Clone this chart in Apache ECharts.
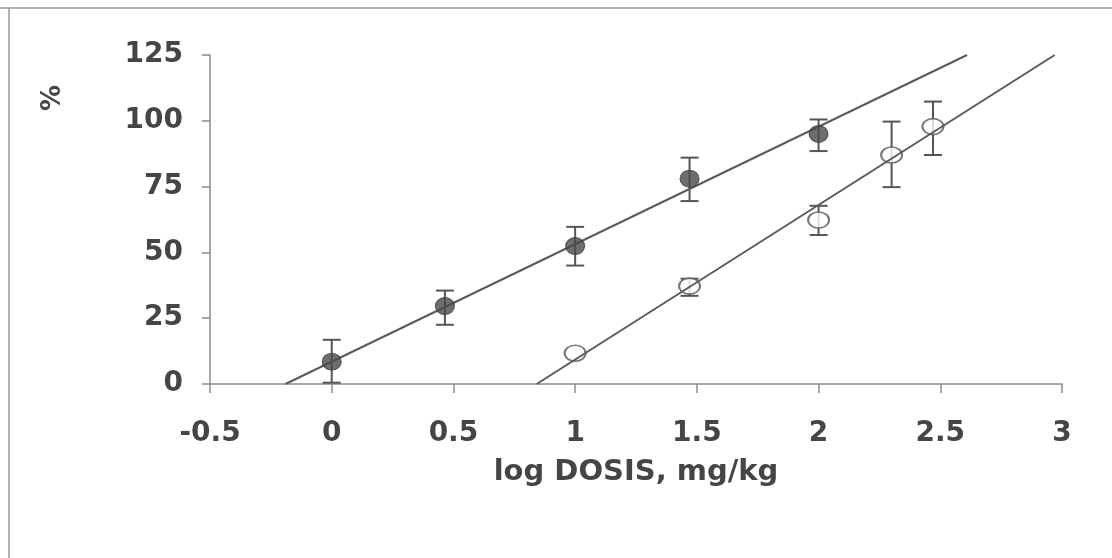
<!DOCTYPE html>
<html>
<head>
<meta charset="utf-8">
<script src="https://cdn.jsdelivr.net/npm/echarts@6/dist/echarts.min.js"></script>
<style>
html,body{margin:0;padding:0;background:#fff;}
#chart{width:1112px;height:558px;}
</style>
</head>
<body>
<div id="chart"></div>
<script>
// ---- data ----
var xTicks = [-0.5, 0, 0.5, 1, 1.5, 2, 2.5, 3];
var yTicks = [0, 25, 50, 75, 100, 125];
var dosesFilled = [0, 0.465, 1, 1.47, 2];
var respFilled = [8.5, 29.6, 52.4, 78, 95];
var errLowFilled = [0.5, 22.5, 45, 69.5, 88.5];
var errHighFilled = [16.8, 35.5, 59.7, 86, 100.5];
var dosesOpen = [1, 1.47, 2, 2.3, 2.47];
var respOpen = [11.7, 37.2, 62.3, 87, 97.8];
var errLowOpen = [null, 33.5, 56.6, 74.8, 87];
var errHighOpen = [null, 40, 67.7, 99.7, 107.3];
var fitFilledX = [-0.19, 2.61];
var fitFilledY = [0, 125];
var fitOpenX = [0.842, 2.97];
var fitOpenY = [0, 125];
var xName = 'log DOSIS, mg/kg';
var yName = '%';

function pairs(xs, ys){ return xs.map(function(x,i){ return [x, ys[i]]; }); }
function errData(xs, lo, hi){
  var out = [];
  xs.forEach(function(x,i){ if (lo[i] != null) out.push([x, lo[i], hi[i]]); });
  return out;
}

var chart = echarts.init(document.getElementById('chart'), null, {renderer:'canvas'});
var textStyle = {fontFamily:'DejaVu Sans', fontWeight:'bold', fontSize:28, color:'#454545'};

function errRender(params, api){
  var x = api.value(0), lo = api.value(1), hi = api.value(2);
  var pLo = api.coord([x, lo]), pHi = api.coord([x, hi]);
  var cap = 9;
  var st = {stroke:'#555', lineWidth:2, fill:null};
  return {type:'group', children:[
    {type:'line', shape:{x1:pLo[0], y1:pLo[1], x2:pHi[0], y2:pHi[1]}, style:st},
    {type:'line', shape:{x1:pLo[0]-cap, y1:pLo[1], x2:pLo[0]+cap, y2:pLo[1]}, style:st},
    {type:'line', shape:{x1:pHi[0]-cap, y1:pHi[1], x2:pHi[0]+cap, y2:pHi[1]}, style:st}
  ]};
}

var option = {
  backgroundColor:'#fff',
  animation:false,
  grid:{left:210, right:50, top:55, bottom:174},
  xAxis:{
    type:'value', min:xTicks[0], max:xTicks[xTicks.length-1], interval:0.5,
    name:xName, nameLocation:'middle', nameGap:74,
    nameTextStyle:{fontFamily:'DejaVu Sans', fontWeight:'bold', fontSize:29, color:'#454545'},
    axisLine:{show:true, onZero:false, lineStyle:{color:'#8a8a8a', width:1.5}},
    axisTick:{show:true, inside:false, length:9, lineStyle:{color:'#8a8a8a', width:1.5}},
    axisLabel:Object.assign({margin:36}, textStyle),
    splitLine:{show:false}
  },
  yAxis:{
    type:'value', min:yTicks[0], max:yTicks[yTicks.length-1], interval:25,
    axisLine:{show:true, onZero:false, lineStyle:{color:'#8a8a8a', width:1.5}},
    axisTick:{show:true, inside:false, length:8, lineStyle:{color:'#8a8a8a', width:1.5}},
    axisLabel:Object.assign({margin:27}, textStyle),
    splitLine:{show:false}
  },
  graphic:[
    {type:'line', shape:{x1:0, y1:8, x2:1112, y2:8}, style:{stroke:'#9a9a9a', lineWidth:1.5}},
    {type:'line', shape:{x1:9, y1:8, x2:9, y2:558}, style:{stroke:'#9a9a9a', lineWidth:1.5}},
    {type:'text', x:53, y:98, rotation:Math.PI/2,
     style:{text:yName, fontFamily:'DejaVu Sans', fontWeight:'bold', fontSize:26, fill:'#454545', align:'center', verticalAlign:'middle'}}
  ],
  series:[
    {type:'custom', name:'errFilled', renderItem:errRender, data:errData(dosesFilled, errLowFilled, errHighFilled), z:1, encode:{x:0, y:[1,2]}},
    {type:'custom', name:'errOpen', renderItem:errRender, data:errData(dosesOpen, errLowOpen, errHighOpen), z:1, encode:{x:0, y:[1,2]}},
    {type:'scatter', name:'open', data:pairs(dosesOpen, respOpen), symbol:'circle', symbolSize:[21,16], z:2,
     itemStyle:{color:'#fff', borderColor:'#555', borderWidth:1.8}},
    {type:'line', name:'fitFilled', data:pairs(fitFilledX, fitFilledY), showSymbol:false, symbol:'none', z:3,
     lineStyle:{color:'#5a5a5a', width:2}},
    {type:'line', name:'fitOpen', data:pairs(fitOpenX, fitOpenY), showSymbol:false, symbol:'none', z:3,
     lineStyle:{color:'#5a5a5a', width:2}},
    {type:'scatter', name:'filled', data:pairs(dosesFilled, respFilled), symbol:'circle', symbolSize:[19,17], z:4,
     itemStyle:{color:'#4a4a4a', borderColor:'#3a3a3a', borderWidth:1}}
  ]
};
chart.setOption(option);
</script>
</body>
</html>
